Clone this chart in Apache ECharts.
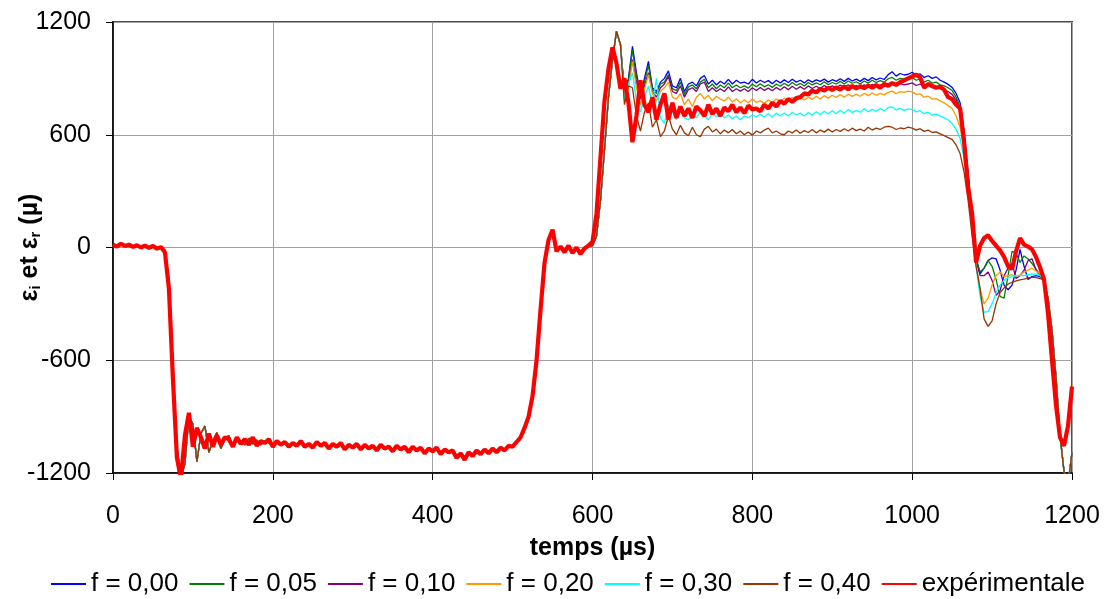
<!DOCTYPE html>
<html>
<head>
<meta charset="utf-8">
<script src="https://cdn.jsdelivr.net/npm/echarts@6/dist/echarts.min.js"></script>
<style>
html,body{margin:0;padding:0;background:#fff;}
#chart{width:1105px;height:599px;}
</style>
</head>
<body>
<div id="chart"></div>
<script>
// ---- data (sampled every 5 µs) ----
const STEP = 5;
const xTicks = [0, 200, 400, 600, 800, 1000, 1200];
const yTicks = [-1200, -600, 0, 600, 1200];
const seriesNames = ['f = 0,00', 'f = 0,05', 'f = 0,10', 'f = 0,20', 'f = 0,30', 'f = 0,40', 'expérimentale'];

// experimental, t = 0 .. 1200
const expValues = [
  15, 5, 20, 8, 15, 3, 12, 0, 10, -2,
  8, -6, 2, -25, -220, -700, -1120, -1230, -1000, -880,
  -1060, -960, -1010, -1070, -990, -1060, -1000, -1050, -1010, -1020,
  -1060, -1010, -1045, -1020, -1050, -1010, -1055, -1030, -1040, -1020,
  -1060, -1030, -1050, -1035, -1060, -1040, -1055, -1030, -1060, -1045,
  -1065, -1035, -1055, -1040, -1070, -1045, -1060, -1040, -1075, -1050,
  -1065, -1045, -1075, -1050, -1070, -1055, -1080, -1050, -1070, -1060,
  -1085, -1055, -1075, -1060, -1090, -1060, -1080, -1065, -1095, -1070,
  -1085, -1065, -1100, -1075, -1090, -1080, -1120, -1095, -1130, -1090,
  -1110, -1080, -1100, -1075, -1095, -1070, -1090, -1065, -1080, -1055,
  -1060, -1035, -1010, -960, -900, -790, -600, -330, -80, 40,
  95, -20, 5, -25, 10, -30, 0, -35, -5, 10,
  30, 180, 480, 780, 950, 1065, 980, 845, 900, 770,
  560, 700, 890, 760, 720, 800, 680, 760, 820, 680,
  770, 690, 750, 700, 740, 690, 750, 730, 700, 760,
  710, 740, 700, 745, 725, 760, 720, 745, 715, 755,
  735, 740, 725, 760, 740, 770, 750, 780, 765, 790,
  775, 795, 800, 820, 815, 835, 825, 845, 835, 850,
  838, 852, 840, 856, 842, 860, 846, 858, 848, 862,
  850, 865, 850, 870, 860, 875, 865, 880, 890, 900,
  910, 920, 905, 850, 870, 860, 850, 855, 840, 800,
  790, 760, 740, 560, 320, 180, -80, 10, 50, 65,
  35, 10, -15, -50, -100, -115, -20, 50, 15, 5,
  -10, -50, -105, -170, -350, -600, -840, -1010, -1055, -950,
  -740
];

// simulations: common part t = 0 .. 635
const simHead = [
  15, 5, 18, 8, 15, 3, 12, 0, 10, -2,
  8, -6, 0, -15, -170, -620, -1060, -1230, -1150, -900,
  -940, -1140, -990, -950, -1090, -1030, -985, -1070, -1020, -1000,
  -1060, -1020, -1030, -1050, -1015, -1045, -1025, -1050, -1030, -1040,
  -1045, -1040, -1050, -1040, -1052, -1045, -1050, -1042, -1055, -1048,
  -1058, -1045, -1055, -1048, -1062, -1050, -1060, -1052, -1066, -1055,
  -1062, -1055, -1068, -1058, -1066, -1060, -1072, -1060, -1070, -1064,
  -1076, -1064, -1074, -1068, -1080, -1070, -1078, -1072, -1086, -1074,
  -1082, -1075, -1090, -1080, -1090, -1085, -1105, -1095, -1115, -1095,
  -1100, -1088, -1095, -1080, -1090, -1075, -1085, -1070, -1075, -1060,
  -1058, -1040, -1015, -970, -910, -810, -620, -350, -100, 30,
  90, -10, 0, -15, 5, -20, 0, -20, 0, 5,
  10, 60, 250, 520, 800, 1000, 1150, 1080
];
const SIM_MID_START = 640; // per-simulation part t = 640 .. 1160
const f000 = [
  830, 900, 1070, 930, 810, 900, 990, 850, 830, 880,
  900, 940, 860, 850, 900, 830, 870, 880, 860, 900,
  915, 870, 890, 865, 885, 870, 895, 870, 890, 875,
  880, 870, 895, 875, 890, 878, 888, 872, 890, 876,
  892, 878, 895, 880, 890, 876, 893, 880, 892, 884,
  896, 880, 893, 884, 898, 884, 900, 886, 896, 884,
  900, 888, 905, 892, 902, 894, 920, 935, 912, 926,
  918, 922, 932, 918, 924, 905, 914, 900, 908, 890,
  880, 868, 852, 820, 770, 620, 400, 150, -60, -140,
  -110, -70, -55, -60, -120, -200, -225, -200, -120, -10,
  -100, -170, -155, -150, -155
];
const f005 = [
  820, 890, 1050, 910, 800, 880, 970, 840, 820, 870,
  880, 920, 845, 835, 880, 815, 855, 865, 845, 880,
  895, 850, 870, 845, 865, 850, 875, 850, 865, 850,
  860, 848, 870, 855, 872, 855, 866, 852, 870, 858,
  874, 860, 878, 862, 873, 860, 878, 865, 876, 866,
  882, 866, 878, 870, 884, 870, 886, 874, 882, 870,
  886, 875, 890, 878, 888, 880, 898, 905, 890, 900,
  895, 900, 905, 890, 898, 880, 890, 875, 880, 865,
  860, 850, 835, 800, 750, 600, 390, 140, -60, -130,
  -110, -70, -100, -170, -260, -270, -150, -20, -30, -80,
  -45, -60, -85, -115, -145
];
const f010 = [
  810, 870, 1000, 880, 790, 860, 930, 830, 800, 850,
  870, 910, 830, 820, 860, 800, 840, 850, 830, 870,
  880, 830, 850, 830, 845, 830, 855, 830, 845, 832,
  845, 830, 850, 835, 852, 836, 848, 834, 852, 838,
  855, 840, 858, 842, 856, 842, 860, 846, 858, 846,
  862, 848, 860, 850, 864, 850, 866, 852, 862, 850,
  866, 852, 868, 856, 866, 856, 872, 876, 862, 872,
  866, 870, 876, 862, 870, 855, 862, 850, 856, 845,
  840, 830, 815, 785, 735, 590, 380, 130, -70, -150,
  -150, -130, -175, -255, -230, -150, -110, -85, -165, -150,
  -120, -70, -60, -120, -150
];
const f020 = [
  790, 850, 990, 850, 760, 840, 920, 820, 780, 830,
  850, 880, 800, 790, 820, 760, 790, 750, 800, 820,
  790, 810, 780, 805, 790, 780, 800, 775, 790, 770,
  785, 770, 790, 772, 780, 768, 785, 772, 790, 775,
  795, 780, 800, 782, 798, 785, 800, 788, 805, 790,
  808, 795, 810, 798, 814, 800, 816, 804, 815, 805,
  820, 808, 822, 810, 820, 812, 826, 832, 818, 830,
  825, 832, 828, 815, 818, 800, 805, 790, 792, 780,
  770, 755, 740, 700, 640, 520, 340, 110, -90, -220,
  -300, -270, -200, -150, -130, -155, -150, -145, -155, -145,
  -130, -120, -110, -125, -140
];
const f030 = [
  780, 870, 930, 780, 720, 800, 860, 760, 900, 690,
  660, 760, 720, 680, 740, 690, 680, 710, 690, 720,
  700, 680, 715, 695, 710, 690, 705, 685, 700, 680,
  700, 690, 705, 695, 710, 695, 712, 695, 715, 700,
  716, 700, 720, 705, 715, 700, 718, 706, 722, 708,
  725, 710, 728, 712, 730, 715, 735, 718, 730, 720,
  738, 722, 735, 725, 740, 728, 745, 748, 732, 740,
  730, 738, 735, 722, 728, 712, 720, 705, 710, 700,
  690, 680, 660, 630, 580, 470, 300, 90, -100, -260,
  -345, -340, -300, -240, -200, -175, -160, -155, -150, -148,
  -150, -145, -140, -142, -148
];
const f040 = [
  760, 860, 850, 700, 620, 720, 770, 640, 680, 590,
  620, 700, 630, 600, 650, 610, 595, 640, 600, 590,
  630, 645, 615, 630, 605, 625, 610, 628, 605, 620,
  600, 615, 598, 620, 610, 625, 635, 610, 620, 605,
  600, 620, 610, 625, 608, 622, 612, 628, 610, 625,
  614, 630, 615, 628, 618, 632, 620, 635, 622, 630,
  620, 640, 625, 635, 628, 640, 645, 640, 628, 636,
  632, 640, 635, 625, 632, 618, 625, 612, 615, 605,
  595, 585, 575, 545, 500, 400, 250, 60, -100, -220,
  -380, -420, -390, -300, -240, -215, -195, -185, -178, -172,
  -168, -162, -158, -160, -165
];
const SIM_TAIL_START = 1165; // common tail t = 1165 .. 1200
const simTail = [-175, -270, -440, -690, -1000, -1190, -1260, -1090];

const colors = ['#0000FF', '#008000', '#800080', '#FF9900', '#00FFFF', '#993300', '#FF0000'];

// ---- build series ----
function toPairs(vals, start) { return vals.map((v, i) => [start + i * STEP, v]); }
function simSeries(mid) {
  return toPairs(simHead, 0).concat(toPairs(mid, SIM_MID_START), toPairs(simTail, SIM_TAIL_START));
}
const sims = [f000, f005, f010, f020, f030, f040];
const FONT = "'Liberation Sans', Arial, sans-serif";

const series = sims.map((s, k) => ({
  name: seriesNames[k], type: 'line', data: simSeries(s),
  symbol: 'none', showSymbol: false, clip: true,
  lineStyle: { color: colors[k], width: 1.3 }, itemStyle: { color: colors[k] },
  animation: false
}));
series.push({
  name: seriesNames[6], type: 'line', data: toPairs(expValues, 0),
  symbol: 'none', showSymbol: false, clip: true,
  lineStyle: { color: colors[6], width: 4.2 }, itemStyle: { color: colors[6] },
  animation: false
});

const chart = echarts.init(document.getElementById('chart'), null, { renderer: 'canvas' });
chart.setOption({
  animation: false,
  backgroundColor: '#fff',
  grid: {
    left: 113, right: 33, top: 22, bottom: 126,
    containLabel: false, outerBoundsMode: 'none',
    show: true, borderColor: '#505050', borderWidth: 2
  },
  xAxis: {
    type: 'value', min: xTicks[0], max: xTicks[xTicks.length - 1], interval: 200,
    name: 'temps (µs)', nameLocation: 'middle', nameGap: 63, nameMoveOverlap: false,
    nameTextStyle: { fontFamily: FONT, fontSize: 25, fontWeight: 'bold', color: '#000' },
    axisLine: { show: true, onZero: false, lineStyle: { color: '#000', width: 1.5 } },
    axisTick: { show: true, inside: false, length: 7, lineStyle: { color: '#000' } },
    axisLabel: { fontFamily: FONT, fontSize: 25, color: '#000', margin: 31, formatter: v => String(v) },
    splitLine: { show: true, lineStyle: { color: '#a0a0a0', width: 1 } }
  },
  yAxis: {
    type: 'value', min: yTicks[0], max: yTicks[yTicks.length - 1], interval: 600,
    name: '{a|ε}{s|i}{a| et ε}{s|r}{a| (µ)}', nameLocation: 'middle', nameGap: 70, nameRotate: 90,
    nameMoveOverlap: false,
    nameTextStyle: {
      fontFamily: FONT, fontSize: 25, fontWeight: 'bold', color: '#000',
      rich: {
        a: { fontFamily: FONT, fontSize: 25, fontWeight: 'bold', color: '#000', lineHeight: 28, verticalAlign: 'bottom' },
        s: { fontFamily: FONT, fontSize: 15, fontWeight: 'bold', color: '#000', lineHeight: 28, verticalAlign: 'bottom' }
      }
    },
    axisLine: { show: true, onZero: false, lineStyle: { color: '#000', width: 1.5 } },
    axisTick: { show: true, inside: false, length: 7, lineStyle: { color: '#000' } },
    axisLabel: { fontFamily: FONT, fontSize: 25, color: '#000', margin: 22, formatter: v => String(v) },
    splitLine: { show: true, lineStyle: { color: '#a0a0a0', width: 1 } }
  },
  legend: {
    data: seriesNames, left: 45, top: 566, itemGap: 10, itemWidth: 35, itemHeight: 14,
    itemStyle: { opacity: 0 },
    textStyle: { fontFamily: FONT, fontSize: 26, color: '#000' }
  },
  series: series
});
</script>
</body>
</html>
